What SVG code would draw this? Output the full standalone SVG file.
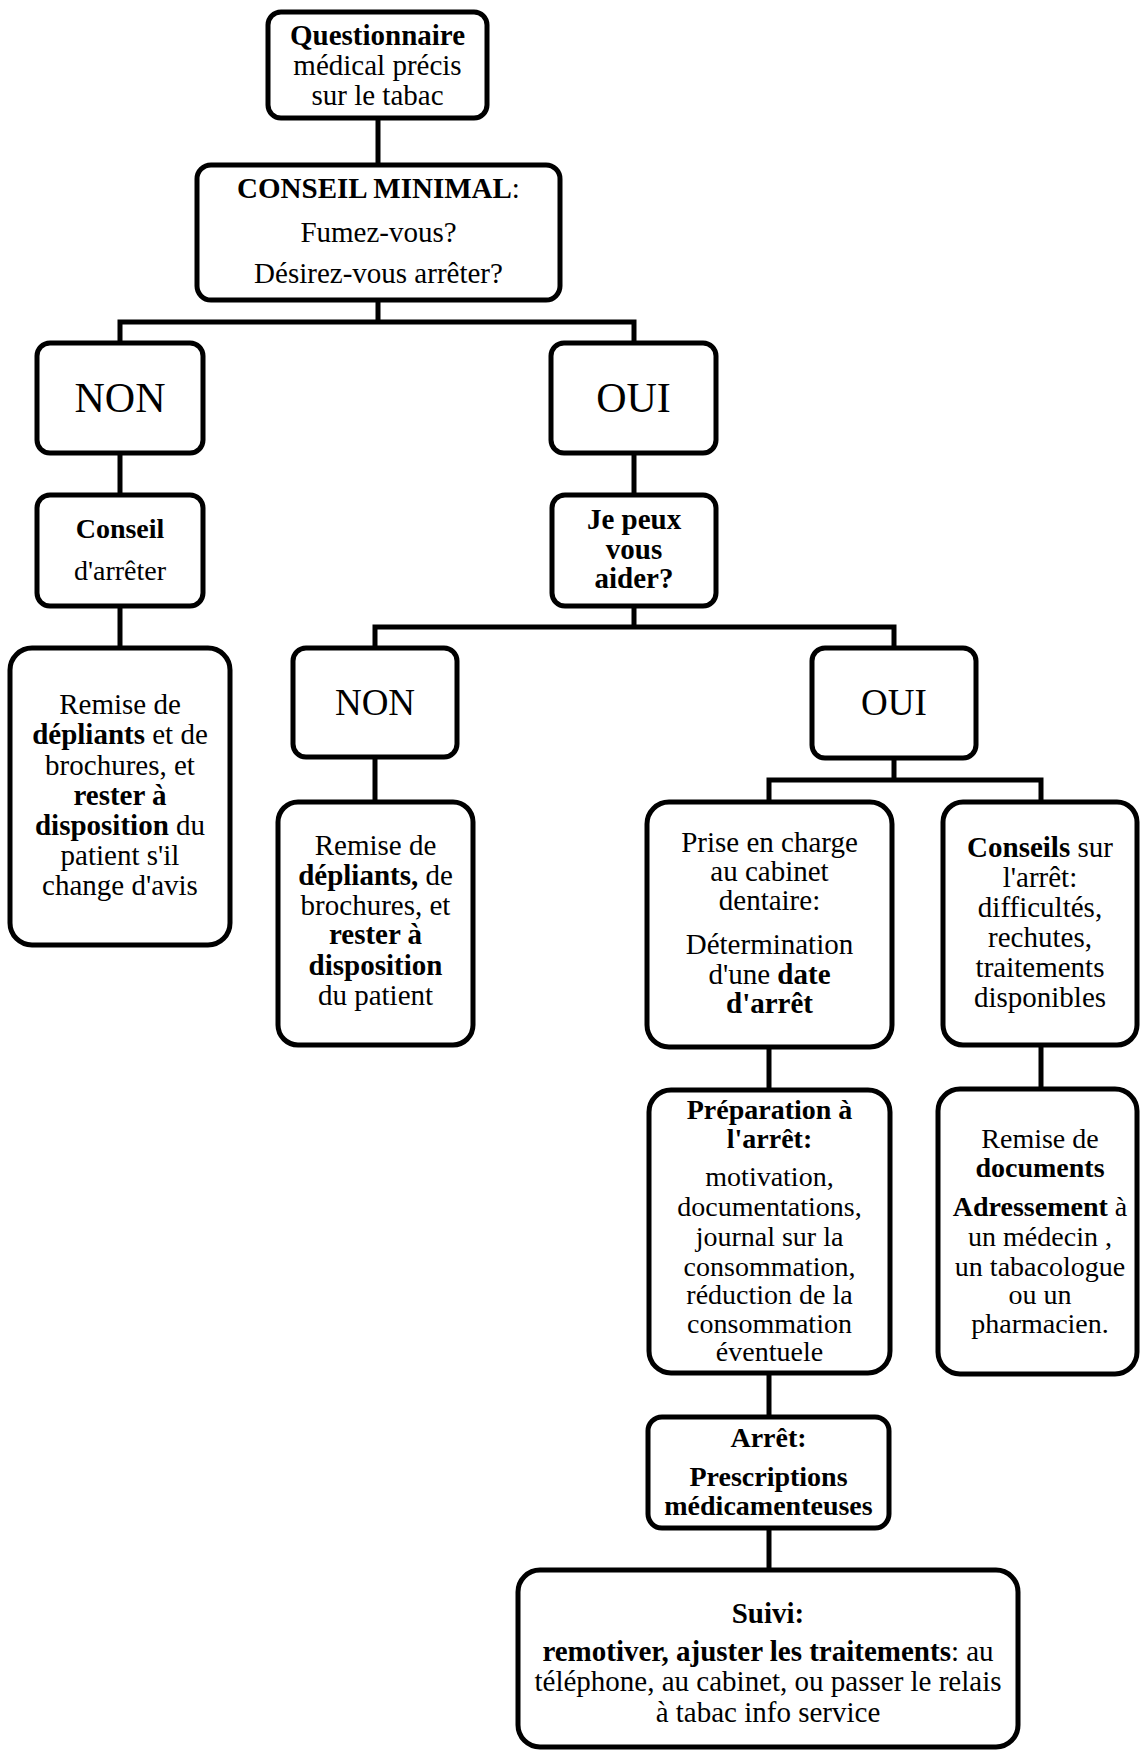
<svg xmlns="http://www.w3.org/2000/svg" width="1140" height="1751" viewBox="0 0 1140 1751">
<style>
.box{fill:#fff;stroke:#000;stroke-width:5}
.conn{fill:none;stroke:#000;stroke-width:5;stroke-linejoin:miter}
.t{font-family:"Liberation Serif","Times New Roman",serif;font-size:29px;text-anchor:middle;fill:#000}
.s28{font-size:28px}
.big{font-size:42px}
.mid{font-size:37px}
.b{font-weight:bold}
</style>
<rect width="1140" height="1751" fill="#fff"/>
<g id="connectors">
<path class="conn" d="M378 118V165"/>
<path class="conn" d="M378 300V322M120 343V322H634V343"/>
<path class="conn" d="M120 453V495"/>
<path class="conn" d="M120 606V648"/>
<path class="conn" d="M634 453V495"/>
<path class="conn" d="M634 606V627M375 648V627H894V648"/>
<path class="conn" d="M375 757V802"/>
<path class="conn" d="M894 758V780M769 802V780H1041V802"/>
<path class="conn" d="M769 1047V1090"/>
<path class="conn" d="M1041 1045V1089"/>
<path class="conn" d="M769 1373V1417"/>
<path class="conn" d="M769 1528V1570"/>
</g>
<g id="questionnaire">
<rect class="box" x="268" y="12" width="219" height="106" rx="13"/>
<text class="t b" x="377.5" y="45">Questionnaire</text>
<text class="t" x="377.5" y="75">médical précis</text>
<text class="t" x="377.5" y="105">sur le tabac</text>
</g>
<g id="conseil-minimal">
<rect class="box" x="197" y="165" width="363" height="135" rx="14"/>
<text class="t" x="378.5" y="198"><tspan class="b">CONSEIL MINIMAL</tspan>:</text>
<text class="t" x="378.5" y="242">Fumez-vous?</text>
<text class="t" x="378.5" y="283">Désirez-vous arrêter?</text>
</g>
<g id="non1">
<rect class="box" x="37" y="343" width="166" height="110" rx="13"/>
<text class="t big" x="120" y="412">NON</text>
</g>
<g id="oui1">
<rect class="box" x="551" y="343" width="165" height="110" rx="13"/>
<text class="t big" x="633.5" y="412">OUI</text>
</g>
<g id="conseil-arreter">
<rect class="box" x="37" y="495" width="166" height="111" rx="13"/>
<text class="t b s28" x="120" y="538">Conseil</text>
<text class="t s28" x="120" y="580">d'arrêter</text>
</g>
<g id="remise1">
<rect class="box" x="10" y="648" width="220" height="297" rx="22"/>
<text class="t" x="120" y="714">Remise de</text>
<text class="t" x="120" y="744"><tspan class="b">dépliants</tspan> et de</text>
<text class="t" x="120" y="775">brochures, et</text>
<text class="t b" x="120" y="805">rester à</text>
<text class="t" x="120" y="835"><tspan class="b">disposition</tspan> du</text>
<text class="t" x="120" y="865">patient s'il</text>
<text class="t" x="120" y="895">change d'avis</text>
</g>
<g id="je-peux">
<rect class="box" x="552" y="495" width="164" height="111" rx="13"/>
<text class="t b" x="634" y="529">Je peux</text>
<text class="t b" x="634" y="559">vous</text>
<text class="t b" x="634" y="588">aider?</text>
</g>
<g id="non2">
<rect class="box" x="293" y="648" width="164" height="109" rx="13"/>
<text class="t mid" x="375" y="715">NON</text>
</g>
<g id="oui2">
<rect class="box" x="812" y="648" width="164" height="110" rx="13"/>
<text class="t mid" x="894" y="715">OUI</text>
</g>
<g id="remise2">
<rect class="box" x="278" y="802" width="195" height="243" rx="20"/>
<text class="t" x="375.5" y="855">Remise de</text>
<text class="t" x="375.5" y="885"><tspan class="b">dépliants,</tspan> de</text>
<text class="t" x="375.5" y="915">brochures, et</text>
<text class="t b" x="375.5" y="944">rester à</text>
<text class="t b" x="375.5" y="975">disposition</text>
<text class="t" x="375.5" y="1005">du patient</text>
</g>
<g id="prise-en-charge">
<rect class="box" x="647" y="802" width="245" height="245" rx="22"/>
<text class="t" x="769.5" y="852">Prise en charge</text>
<text class="t" x="769.5" y="881">au cabinet</text>
<text class="t" x="769.5" y="910">dentaire:</text>
<text class="t" x="769.5" y="954">Détermination</text>
<text class="t" x="769.5" y="984">d'une <tspan class="b">date</tspan></text>
<text class="t b" x="769.5" y="1013">d'arrêt</text>
</g>
<g id="conseils-arret">
<rect class="box" x="943" y="802" width="194" height="243" rx="20"/>
<text class="t" x="1040" y="857"><tspan class="b">Conseils</tspan> sur</text>
<text class="t" x="1040" y="887">l'arrêt:</text>
<text class="t" x="1040" y="917">difficultés,</text>
<text class="t" x="1040" y="947">rechutes,</text>
<text class="t" x="1040" y="977">traitements</text>
<text class="t" x="1040" y="1007">disponibles</text>
</g>
<g id="preparation">
<rect class="box" x="649" y="1090" width="241" height="283" rx="22"/>
<text class="t b s28" x="769.5" y="1119">Préparation à</text>
<text class="t b s28" x="769.5" y="1148">l'arrêt:</text>
<text class="t s28" x="769.5" y="1186">motivation,</text>
<text class="t s28" x="769.5" y="1216">documentations,</text>
<text class="t s28" x="769.5" y="1246">journal sur la</text>
<text class="t s28" x="769.5" y="1276">consommation,</text>
<text class="t s28" x="769.5" y="1304">réduction de la</text>
<text class="t s28" x="769.5" y="1333">consommation</text>
<text class="t s28" x="769.5" y="1361">éventuele</text>
</g>
<g id="remise-documents">
<rect class="box" x="938" y="1089" width="199" height="285" rx="22"/>
<text class="t s28" x="1040" y="1148">Remise de</text>
<text class="t b s28" x="1040" y="1177">documents</text>
<text class="t s28" x="1040" y="1216"><tspan class="b">Adressement</tspan> à</text>
<text class="t s28" x="1040" y="1246">un médecin ,</text>
<text class="t s28" x="1040" y="1276">un tabacologue</text>
<text class="t s28" x="1040" y="1304">ou un</text>
<text class="t s28" x="1040" y="1333">pharmacien.</text>
</g>
<g id="arret">
<rect class="box" x="648" y="1417" width="241" height="111" rx="14"/>
<text class="t b s28" x="768.5" y="1447">Arrêt:</text>
<text class="t b s28" x="768.5" y="1486">Prescriptions</text>
<text class="t b s28" x="768.5" y="1515">médicamenteuses</text>
</g>
<g id="suivi">
<rect class="box" x="518" y="1570" width="500" height="177" rx="22"/>
<text class="t b" x="768" y="1623">Suivi:</text>
<text class="t" x="768" y="1661"><tspan class="b">remotiver, ajuster les traitements</tspan>: au</text>
<text class="t" x="768" y="1691">téléphone, au cabinet, ou passer le relais</text>
<text class="t" x="768" y="1722">à tabac info service</text>
</g>
</svg>
